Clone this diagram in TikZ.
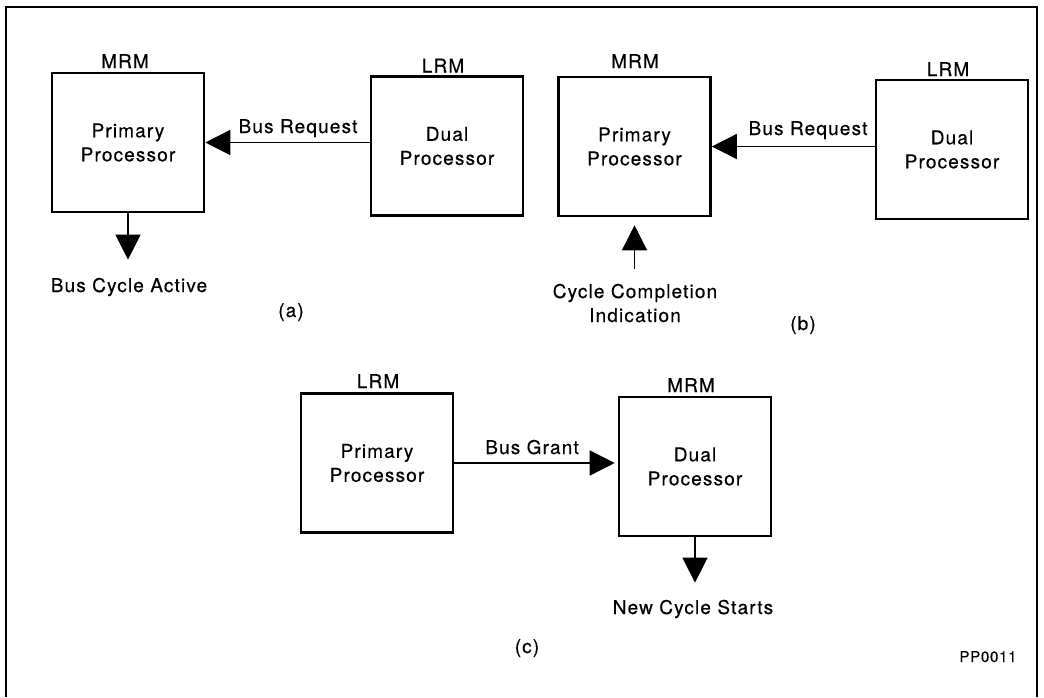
\documentclass[tikz,border=0pt]{standalone}
\usepackage{fontspec}
\setmainfont{TeX Gyre Heros}
\usepackage{tikz}
\usetikzlibrary{arrows.meta,positioning}
\newcommand{\figfont}{\fontsize{19}{24}\selectfont\addfontfeature{LetterSpace=6,FakeBold=0.45}}

\begin{document}
\begin{tikzpicture}[
    x=1pt, y=-1pt,
    proc/.style={draw, line width=2.6pt, minimum width=152pt, minimum height=139pt,
                 align=center, inner sep=0pt, font=\figfont},
    txt/.style={anchor=base, inner sep=0pt, font=\figfont},
    arr/.style={-{Triangle[length=25pt,width=25pt]}, line width=1.5pt}
  ]
  \useasboundingbox (0,0) rectangle (1044,697);
  % Outer frame (open at the bottom)
  \draw[line width=1.5pt] (6,697) -- (6,7) -- (1037,7) -- (1037,697);

  % (a)
  \node[proc] (aprim) at (128,142.5) {Primary\\Processor};
  \node[proc] (adual) at (447,146) {Dual\\Processor};
  \node[txt] (amrm) at (125,68) {MRM};
  \node[txt] (alrm) at (443,72.5) {LRM};
  \node[txt] (areq) at (298,133) {Bus Request};
  \node[txt] (aact) at (129,292) {Bus Cycle Active};
  \node[txt] (alab) at (291,317) {(a)};
  \draw[arr] (adual.west |- aprim.east) -- (aprim.east);
  \draw[arr, shorten >=18pt] (aprim.south) -- (aact.north -| aprim.south);

  % (b)
  \node[proc] (bprim) at (634.5,146.5) {Primary\\Processor};
  \node[proc] (bdual) at (952,149.5) {Dual\\Processor};
  \node[txt] (bmrm) at (635,68) {MRM};
  \node[txt] (blrm) at (948,76) {LRM};
  \node[txt] (breq) at (808,135) {Bus Request};
  \node[txt, align=center] (bcyc) at (635,322) {Cycle Completion\\Indication};
  \node[txt] (blab) at (803,330) {(b)};
  \draw[arr, shorten <=15pt, shorten >=8pt] (bcyc.north -| bprim.south) -- (bprim.south);
  \draw[arr] (bdual.west |- bprim.east) -- (bprim.east);

  % (c)
  \node[proc] (cprim) at (377,463) {Primary\\Processor};
  \node[proc] (cdual) at (695,466.5) {Dual\\Processor};
  \node[txt] (clrm) at (378,388) {LRM};
  \node[txt] (cmrm) at (691,392) {MRM};
  \node[txt] (cgnt) at (532,454) {Bus Grant};
  \node[txt] (cnew) at (693,614) {New Cycle Starts};
  \node[txt] (clab) at (527,653) {(c)};
  \draw[arr, shorten >=3pt] (cprim.east) -- (cdual.west |- cprim.east);
  \draw[arr, shorten >=17pt] (cdual.south) -- (cnew.north -| cdual.south);

  \node[txt, font=\fontsize{15}{18}\selectfont\addfontfeature{LetterSpace=5,FakeBold=0.4}] (code) at (988,662) {PP0011};
\end{tikzpicture}
\end{document}
